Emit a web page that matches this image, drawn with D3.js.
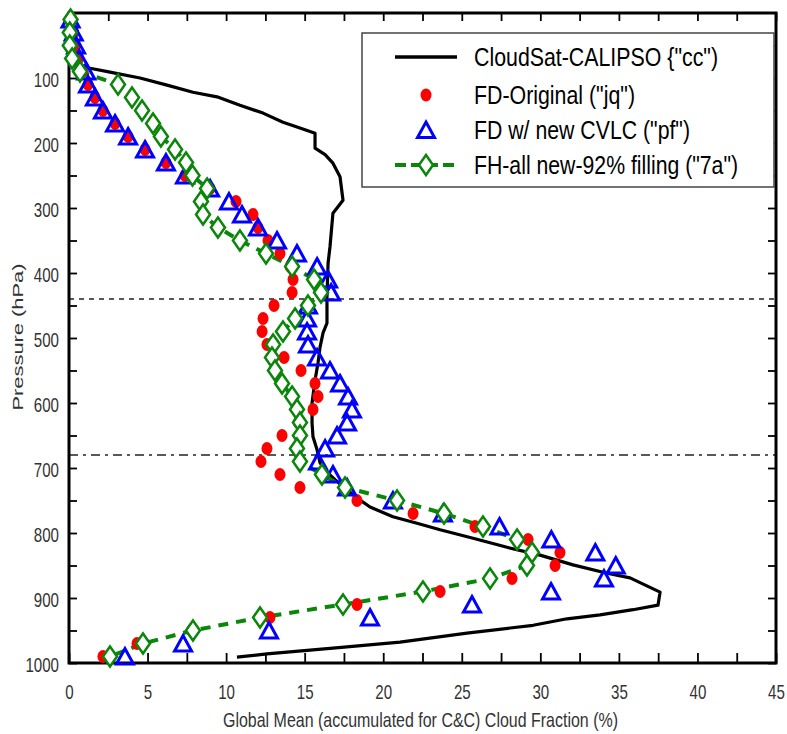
<!DOCTYPE html>
<html>
<head>
<meta charset="utf-8">
<script src="https://cdn.jsdelivr.net/npm/d3@7"></script>
<style>
  body { margin: 0; background: #fff; }
  svg { display: block; }
</style>
</head>
<body>
<svg id="chart" width="787" height="734"></svg>
<script>
// Model pressure levels (hPa) shared by the three model runs
const levels = [10, 30, 50, 70, 90, 110, 130, 150, 170, 190,
                210, 230, 250, 270, 290, 310, 330, 350, 370, 390,
                410, 430, 450, 470, 490, 510, 530, 550, 570, 590,
                610, 630, 650, 670, 690, 710, 730, 750, 770, 790,
                810, 830, 850, 870, 890, 910, 930, 950, 970, 990];

// FD-Original ("jq")
const fdOriginal = [0.2, 0.3, 0.4, 0.6, 0.9, 1.21, 1.65, 2.16, 2.93, 3.76,
                    4.84, 6.17, 7.38, 8.98, 10.63, 11.71, 12.03, 12.67, 13.43, 14.07,
                    14.26, 14.2, 13.05, 12.35, 12.29, 12.6, 13.69, 14.77, 15.66, 15.85,
                    15.53, 14.6, 13.56, 12.6, 12.22, 13.43, 14.7, 18.33, 21.9, 25.84,
                    29.22, 31.25, 30.94, 28.2, 23.62, 18.33, 12.79, 7.8, 4.33, 2.16];

// FD w/ new CVLC ("pf")
const fdNewCvlc = [0.1, 0.3, 0.45, 0.65, 1.1, 1.21, 1.65, 2.16, 2.93, 3.76,
                   4.84, 6.17, 7.38, 8.98, 10.18, 11.01, 12.03, 13.24, 14.51, 15.79,
                   16.49, 16.68, 15.21, 15.15, 15.15, 15.21, 15.79, 16.61, 17.25, 17.76,
                   18.01, 17.7, 17.06, 16.3, 15.85, 16.8, 17.7, 20.62, 23.8, 27.4,
                   30.7, 33.5, 34.8, 34.05, 30.68, 25.65, 19.16, 12.73, 7.26, 3.56];

// FH-all new-92% filling ("7a")
const fhAllNew = [0.1, 0.05, 0.05, 0.2, 0.7, 3.12, 4.01, 4.65, 5.35, 5.85,
                  6.75, 7.45, 7.86, 8.79, 8.4, 8.53, 9.48, 10.88, 12.54, 14.2,
                  15.6, 16.04, 15.21, 14.39, 13.62, 12.99, 12.92, 13.11, 13.56, 14.2,
                  14.51, 14.7, 14.7, 14.51, 14.7, 16.1, 17.57, 20.88, 23.87, 26.35,
                  28.52, 29.47, 29.15, 26.8, 22.53, 17.44, 12.16, 7.89, 4.71, 2.61];

// CloudSat-CALIPSO ("cc") profile
const ccPressure = [10, 40, 77, 85, 91, 100, 111, 122, 129, 142,
                    154, 168, 177, 185, 208, 218, 231, 252, 288, 300,
                    308, 360, 385, 437, 477, 492, 514, 538, 565, 600,
                    631, 652, 672, 692, 708, 718, 746, 760, 775, 785,
                    795, 808, 822, 834, 849, 862, 869, 891, 911, 918,
                    926, 932, 942, 954, 968, 977, 986, 991];
const ccFraction = [0.1, 0.15, 0.3, 1.34, 2.61, 4.52, 6.24, 7.89, 9.42, 10.88,
                    12.35, 13.62, 14.7, 15.66, 15.66, 16.3, 16.8, 17.25, 17.44, 17.06,
                    16.8, 16.61, 16.49, 16.42, 16.42, 16.17, 15.98, 15.85, 15.66, 15.47,
                    15.47, 15.53, 15.79, 15.98, 16.49, 16.93, 18.33, 19.16, 20.62, 22.15,
                    23.62, 25.72, 27.88, 29.98, 32.08, 34.25, 35.71, 37.62, 37.49, 35.9,
                    33.8, 31.7, 29.54, 25.33, 21.07, 16.8, 12.6, 10.69];

// Axis tick labels
const xTickLabels = [0, 5, 10, 15, 20, 25, 30, 35, 40, 45];
const yTickLabels = [100, 200, 300, 400, 500, 600, 700, 800, 900, 1000];

// Horizontal reference levels (hPa)
const dashedLevel = 440;
const dashDotLevel = 680;

const legendLabels = ['CloudSat-CALIPSO {"cc")', 'FD-Original ("jq")',
                      'FD w/ new CVLC ("pf")', 'FH-all new-92% filling ("7a")'];

const FONT = "'Liberation Sans', Arial, sans-serif";
const RED = "#ff0000", BLUE = "#0000ff", GREEN = "#0a870a";

const svg = d3.select("#chart");
const x = d3.scaleLinear().domain([0, 45]).range([69, 776]);
const y = d3.scaleLinear().domain([0, 1000]).range([13, 663]);

// ---- reference lines
svg.append("line")
  .attr("x1", x(0)).attr("x2", x(45))
  .attr("y1", y(dashedLevel)).attr("y2", y(dashedLevel))
  .attr("stroke", "#222").attr("stroke-width", 1.4)
  .attr("stroke-dasharray", "5,5");
svg.append("line")
  .attr("x1", x(0)).attr("x2", x(45))
  .attr("y1", y(dashDotLevel)).attr("y2", y(dashDotLevel))
  .attr("stroke", "#222").attr("stroke-width", 1.4)
  .attr("stroke-dasharray", "9,5,3,5");

// ---- axes (ticks point inward)
function styleAxis(g, fontSize, charW) {
  g.select(".domain").remove();
  g.selectAll(".tick line").attr("stroke", "#000").attr("stroke-width", 1.8);
  g.selectAll(".tick text")
    .attr("fill", "#333")
    .attr("font-family", FONT)
    .attr("font-size", fontSize)
    .each(function () {
      const s = d3.select(this).text();
      if (s.length) {
        d3.select(this).attr("textLength", s.length * charW)
          .attr("lengthAdjust", "spacingAndGlyphs");
      }
    });
}

const xMinor = d3.range(0, 45.01, 2.5);
const yMinor = d3.range(50, 1000.01, 50);

svg.append("g")
  .attr("transform", `translate(0,${y(1000)})`)
  .call(d3.axisBottom(x).tickValues(xMinor).tickSizeInner(-10).tickSizeOuter(0)
        .tickPadding(21)
        .tickFormat(d => xTickLabels.includes(d) ? String(d) : ""))
  .call(g => styleAxis(g, 21, 8.4));

svg.append("g")
  .attr("transform", `translate(${x(0)},0)`)
  .call(d3.axisLeft(y).tickValues(yMinor).tickSizeInner(-8).tickSizeOuter(0)
        .tickPadding(10)
        .tickFormat(d => yTickLabels.includes(d) ? String(d) : ""))
  .call(g => styleAxis(g, 21, 8.4))
  .call(g => g.selectAll(".tick text").attr("dy", "0.4em"));

svg.append("g")
  .attr("transform", `translate(0,${y(0)})`)
  .call(d3.axisTop(x).tickValues(xMinor).tickSizeInner(-8).tickSizeOuter(0).tickFormat(""))
  .call(g => styleAxis(g, 21, 8.4));

svg.append("g")
  .attr("transform", `translate(${x(45)},0)`)
  .call(d3.axisRight(y).tickValues(yMinor).tickSizeInner(-8).tickSizeOuter(0).tickFormat(""))
  .call(g => styleAxis(g, 21, 8.4));

// plot frame
svg.append("rect")
  .attr("x", x(0)).attr("y", y(0))
  .attr("width", x(45) - x(0)).attr("height", y(1000) - y(0))
  .attr("fill", "none").attr("stroke", "#000").attr("stroke-width", 3);

// axis titles
svg.append("text")
  .attr("x", 420.5).attr("y", 727)
  .attr("text-anchor", "middle")
  .attr("font-family", FONT).attr("font-size", 21).attr("fill", "#333")
  .attr("textLength", 395).attr("lengthAdjust", "spacingAndGlyphs")
  .text("Global Mean (accumulated for C&C) Cloud Fraction (%)");

svg.append("text")
  .attr("transform", "translate(23,337) rotate(-90)")
  .attr("text-anchor", "middle")
  .attr("font-family", FONT).attr("font-size", 15.5).attr("fill", "#333")
  .attr("textLength", 147).attr("lengthAdjust", "spacingAndGlyphs")
  .text("Pressure (hPa)");

// ---- series
const ccData = ccPressure.map((p, i) => ({ p, v: ccFraction[i] }));
const ptsJq = levels.map((p, i) => ({ p, v: fdOriginal[i] }));
const ptsPf = levels.map((p, i) => ({ p, v: fdNewCvlc[i] }));
const pts7a = levels.map((p, i) => ({ p, v: fhAllNew[i] }));

const line = d3.line().x(d => x(d.v)).y(d => y(d.p));

svg.append("path").datum(ccData)
  .attr("d", line).attr("fill", "none")
  .attr("stroke", "#000").attr("stroke-width", 3.2).attr("stroke-linejoin", "round");

svg.append("path").datum(pts7a)
  .attr("d", line).attr("fill", "none")
  .attr("stroke", GREEN).attr("stroke-width", 4)
  .attr("stroke-dasharray", "10,8");

const TRI = "M0,-9L8.5,6.5L-8.5,6.5Z";
const DIA = "M0,-10L7,0L0,10L-7,0Z";

svg.append("g").selectAll("ellipse").data(ptsJq).join("ellipse")
  .attr("cx", d => x(d.v)).attr("cy", d => y(d.p))
  .attr("rx", 5.5).attr("ry", 6.5).attr("fill", RED);

svg.append("g").selectAll("path").data(ptsPf).join("path")
  .attr("transform", d => `translate(${x(d.v)},${y(d.p) + 1})`)
  .attr("d", TRI).attr("fill", "none")
  .attr("stroke", BLUE).attr("stroke-width", 3).attr("stroke-linejoin", "miter");

svg.append("g").selectAll("path").data(pts7a).join("path")
  .attr("transform", d => `translate(${x(d.v)},${y(d.p)})`)
  .attr("d", DIA).attr("fill", "#fff")
  .attr("stroke", GREEN).attr("stroke-width", 2.5);

// ---- legend
const lg = svg.append("g");
lg.append("rect")
  .attr("x", 362).attr("y", 33).attr("width", 412).attr("height", 154)
  .attr("fill", "#fff").attr("stroke", "#444").attr("stroke-width", 1.5);

const rowY = [57, 95, 130, 165];
const textLen = [244, 161, 216, 264];
const sx0 = 395, sx1 = 457, sxm = 426;

lg.append("line").attr("x1", sx0).attr("x2", sx1).attr("y1", rowY[0]).attr("y2", rowY[0])
  .attr("stroke", "#000").attr("stroke-width", 3.5);
lg.append("ellipse").attr("cx", sxm).attr("cy", rowY[1]).attr("rx", 5.5).attr("ry", 6.5)
  .attr("fill", RED);
lg.append("path").attr("transform", `translate(${sxm},${rowY[2] + 1})`).attr("d", TRI)
  .attr("fill", "none").attr("stroke", BLUE).attr("stroke-width", 3);
lg.append("line").attr("x1", sx0).attr("x2", sx1).attr("y1", rowY[3]).attr("y2", rowY[3])
  .attr("stroke", GREEN).attr("stroke-width", 4).attr("stroke-dasharray", "11,5");
lg.append("path").attr("transform", `translate(${sxm},${rowY[3]})`).attr("d", DIA)
  .attr("fill", "#fff").attr("stroke", GREEN).attr("stroke-width", 2.5);

lg.selectAll("text.lab").data(legendLabels).join("text")
  .attr("class", "lab")
  .attr("x", 474).attr("y", (d, i) => rowY[i] + 9)
  .attr("font-family", FONT).attr("font-size", 25).attr("fill", "#000")
  .attr("textLength", (d, i) => textLen[i]).attr("lengthAdjust", "spacingAndGlyphs")
  .text(d => d);
</script>
</body>
</html>
